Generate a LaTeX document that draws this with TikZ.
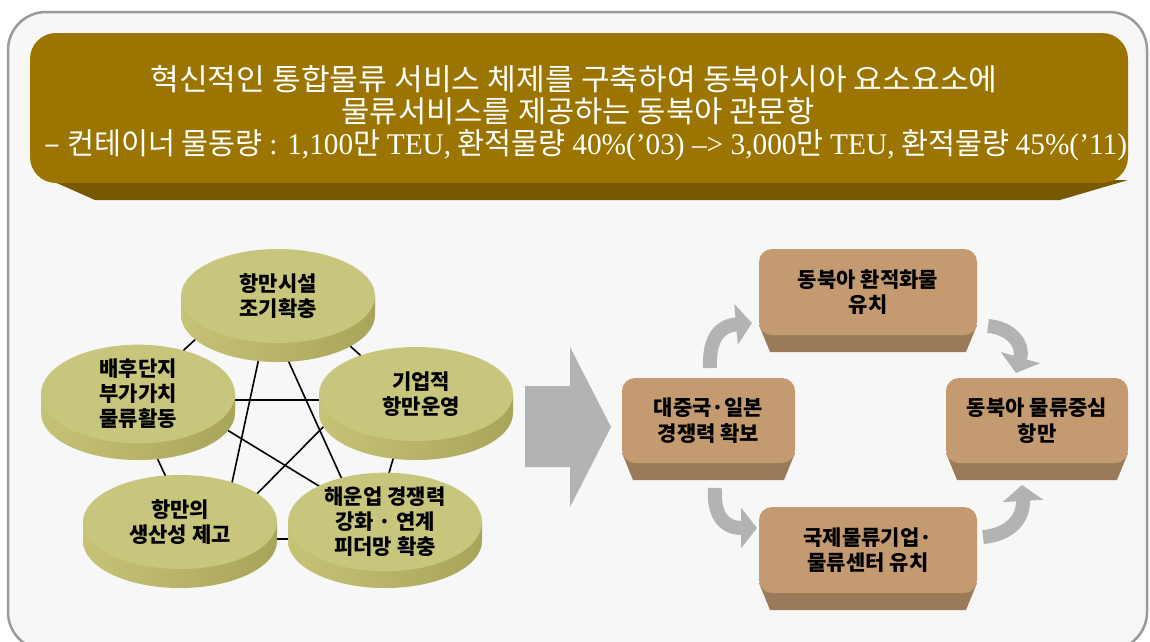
\documentclass[tikz,border=0pt]{standalone}
\usepackage{graphicx}
\usepackage{fontspec}
\newfontfamily\kr{Noto Sans CJK KR}
\newfontfamily\lat{Liberation Serif}
\usetikzlibrary{shapes.geometric,arrows.meta}
\definecolor{framefill}{HTML}{F7F7F7}
\definecolor{frameline}{HTML}{9A9A9A}
\definecolor{gold}{HTML}{9C7500}
\definecolor{golddark}{HTML}{775900}
\definecolor{face}{HTML}{C8C57C}
\definecolor{sideL}{HTML}{C6C377}
\definecolor{sideR}{HTML}{A8A45A}
\definecolor{boxface}{HTML}{C49B70}
\definecolor{boxbevel}{HTML}{9A7A58}
\definecolor{arrowgray}{HTML}{B3B3B3}
\tikzset{
  bannertext/.style={text=white,font=\kr\fontsize{30}{32}\selectfont,inner sep=0pt},
  cylface/.style={ellipse,fill=face,minimum width=194pt,minimum height=94pt,inner sep=0pt,
    align=center,font=\kr\bfseries\fontsize{21}{25}\selectfont},
  cylside/.style={left color=sideL,right color=sideR},
  boxnode/.style={rectangle,rounded corners=13pt,fill=boxface,inner sep=0pt,align=center,
    font=\kr\bfseries\fontsize{21}{25.5}\selectfont},
  boxbev/.style={fill=boxbevel},
  conn/.style={line width=1.6pt,black},
  curvarrow/.style={line width=14pt,arrowgray,-{Triangle[width=40pt,length=16pt]}},
}
\newcommand{\cylbase}[2]{%
  \shade[cylside] ({#1-97},#2) -- ++(0,19) arc[start angle=180,end angle=360,x radius=97pt,y radius=47pt] -- ++(0,-19) -- cycle;}
\newcommand{\boxbase}[3]{% x1 x2 ybottom-of-face
  \fill[boxbev] (#1,{#3-10}) -- (#2,{#3-10}) -- ({#2-11},{#3+17}) -- ({#1+11},{#3+17}) -- cycle;}
\begin{document}
\begin{tikzpicture}[x=1pt,y=-1pt]
\useasboundingbox (0,0) rectangle (1150,641);
% outer frame
\begin{scope}
\clip (0,0) rectangle (1150,641);
\draw[line width=2.5pt,frameline,fill=framefill,rounded corners=38pt] (8,12) rectangle (1147,650);
\end{scope}
% banner
\fill[golddark] (50,180) -- (1128,180) -- (1060,200) -- (95,200) -- cycle;
\fill[gold,rounded corners=26pt] (30,33) rectangle (1128,183);
\node[bannertext] (t1) at (574,79) {\resizebox{847pt}{\height}{혁신적인 통합물류 서비스 체제를 구축하여 동북아시아 요소요소에}};
\node[bannertext] (t2) at (578,111) {\resizebox{473pt}{\height}{물류서비스를 제공하는 동북아 관문항}};
\node[bannertext] (t3) at (586,145) {\resizebox{1082pt}{\height}{– 컨테이너 물동량 {\lat : 1,100}만 {\lat TEU,} 환적물량 {\lat 40\%(’03) –> 3,000}만 {\lat TEU,} 환적물량 {\lat 45\%(’11)}}};
% pentagon and star connectors
\coordinate (p1) at (268,272);
\coordinate (p2) at (130,400);
\coordinate (p3) at (410,400);
\coordinate (p4) at (195,539);
\coordinate (p5) at (370,539);
\coordinate (s1) at (268,316);
\coordinate (s2) at (178,400);
\coordinate (s3) at (350,400);
\coordinate (s4) at (222,529);
\coordinate (s5) at (355,508);
\draw[conn] (p1) -- (p2) -- (p4) -- (p5) -- (p3) -- cycle;
\draw[conn] (s1) -- (s4);
\draw[conn] (s1) -- (s5);
\draw[conn] (s2) -- (s3);
\draw[conn] (s2) -- (s5);
\draw[conn] (s3) -- (s4);
% cylinders
\cylbase{278}{296}
\node[cylface] (e1) at (278,296) {항만시설\\조기확충};
\cylbase{138}{394}
\node[cylface] (e2) at (138,394) {배후단지\\부가가치\\물류활동};
\cylbase{416}{394}
\node[cylface] (e3) at (416,394) {\hspace*{10pt}기업적\\\hspace*{10pt}항만운영};
\cylbase{180}{522}
\node[cylface] (e4) at (180,522) {항만의\\생산성 제고};
\cylbase{385}{522}
\node[cylface] (e5) at (385,522) {해운업 경쟁력\\강화 · 연계\\피더망 확충};
% big arrow
\fill[arrowgray] (525,386) -- (570,386) -- (570,347) -- (611,427) -- (570,507) -- (570,467) -- (525,467) -- cycle;
% boxes
\boxbase{622}{795}{463}
\node[boxnode,minimum width=173pt,minimum height=85pt] (b1) at (708.5,420.5) {대중국·일본\\경쟁력 확보};
\boxbase{759}{977}{335}
\node[boxnode,minimum width=218pt,minimum height=86pt] (b2) at (868,292) {동북아 환적화물\\유치};
\boxbase{946}{1128}{463}
\node[boxnode,minimum width=182pt,minimum height=85pt] (b3) at (1037,420.5) {동북아 물류중심\\항만};
\boxbase{759}{977}{593}
\node[boxnode,minimum width=218pt,minimum height=86pt] (b4) at (868,550) {국제물류기업·\\물류센터 유치};
% curved arrows
\coordinate (a1s) at (710,368);
\coordinate (a1e) at (752,323);
\coordinate (a2s) at (988,326);
\coordinate (a2e) at (1016,373);
\coordinate (a3s) at (715,488);
\coordinate (a3e) at (757,528);
\coordinate (a4s) at (983,537);
\coordinate (a4e) at (1022,485);
\draw[curvarrow] (a1s) .. controls (709,340) and (718,326) .. (a1e);
\draw[curvarrow] (a2s) .. controls (1012,328) and (1024,345) .. (a2e);
\draw[curvarrow] (a3s) .. controls (713,515) and (724,528) .. (a3e);
\draw[curvarrow] (a4s) .. controls (1008,535) and (1024,520) .. (a4e);
\end{tikzpicture}
\end{document}
